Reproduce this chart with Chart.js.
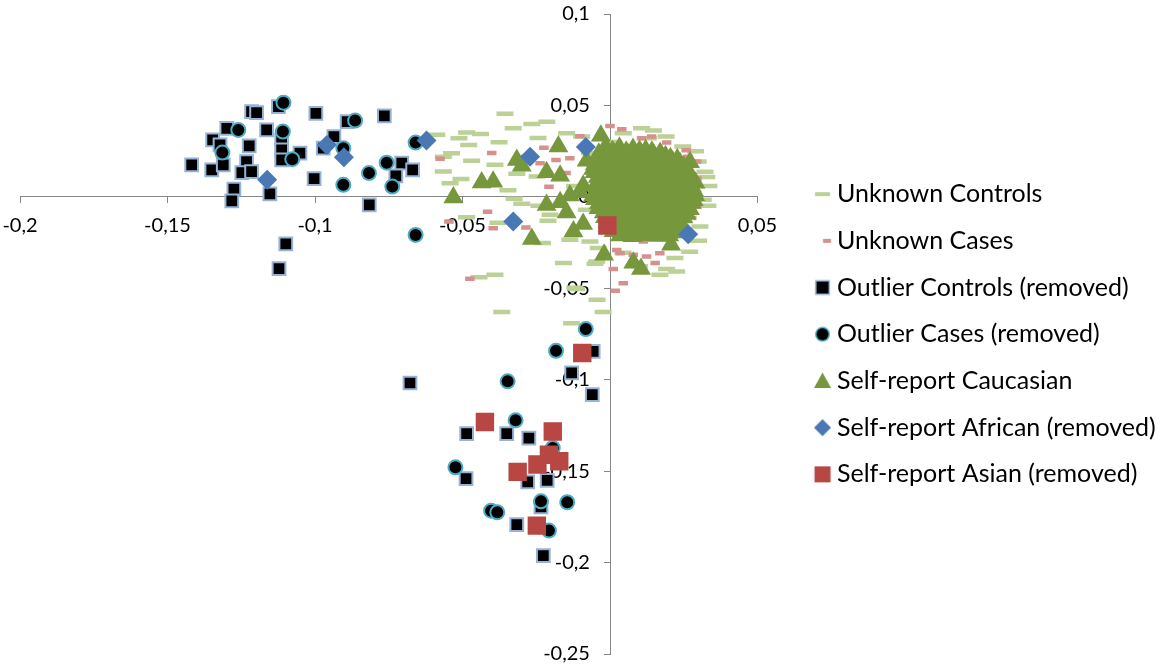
<!DOCTYPE html>
<html><head><meta charset="utf-8">
<script src="https://cdn.jsdelivr.net/npm/chart.js@4.4.1/dist/chart.umd.min.js"></script>
<style>html,body{margin:0;padding:0;background:#fff;overflow:hidden}#wrap{width:1163px;height:667px}</style>
</head><body><div id="wrap"><canvas id="c" width="1163" height="667" style="width:1163px;height:667px"></canvas></div>
<script>
const seriesNames = ['Unknown Controls','Unknown Cases','Outlier Controls (removed)','Outlier Cases (removed)','Self-report Caucasian','Self-report African (removed)','Self-report Asian (removed)'];
const xTickValues = [-0.2,-0.15,-0.1,-0.05,0,0.05];
const xTickLabels = ['-0,2','-0,15','-0,1','-0,05','0','0,05'];
const yTickValues = [-0.25,-0.2,-0.15,-0.1,-0.05,0,0.05,0.1];
const yTickLabels = ['-0,25','-0,2','-0,15','-0,1','-0,05','0','0,05','0,1'];

const unknownControls = [[-0.0356,0.0454],[-0.0328,0.0375],[-0.0265,0.0399],[-0.0214,0.0411],[-0.0486,0.0352],[-0.0439,0.0344],[-0.0587,0.0339],[-0.0512,0.0321],[-0.0376,0.0299],[-0.0479,0.0284],[-0.0244,0.0322],[-0.0565,0.0220],[-0.0537,0.0239],[-0.0469,0.0197],[-0.0390,0.0175],[-0.0565,0.0138],[-0.0505,0.0098],[-0.0542,0.0075],[-0.0316,0.0126],[-0.0247,0.0112],[-0.0346,0.0036],[-0.0325,-0.0011],[-0.0299,-0.0038],[-0.0241,-0.0049],[-0.0203,-0.0098],[-0.0210,-0.0131],[-0.0486,-0.0112],[-0.0380,-0.0142],[-0.0229,-0.0253],[-0.0158,-0.0362],[-0.0390,-0.0426],[-0.0444,-0.0440],[-0.0119,-0.0497],[-0.0051,-0.0366],[-0.0136,-0.0235],[-0.0147,0.0348],[-0.0096,0.0330],[0.0045,0.0348],[0.0107,0.0375],[0.0147,0.0363],[0.0247,0.0275],[0.0299,0.0193],[0.0322,0.0137],[0.0328,0.0109],[0.0316,-0.0016],[0.0332,-0.0049],[0.0305,-0.0162],[0.0220,-0.0335],[0.0226,-0.0408],[0.0169,-0.0426],[0.0192,-0.0395],[-0.0068,-0.0244],[-0.0045,-0.0354],[0.0044,-0.0306],[-0.0113,-0.0504],[-0.0044,-0.0563],[-0.0367,-0.0630],[-0.0023,-0.0630],[-0.0130,-0.0691],[0.0010,0.0300],[0.0190,0.0330],[0.0290,0.0250],[0.0335,0.0060],[0.0300,-0.0240],[0.0100,-0.0380],[-0.0040,-0.0280],[-0.0080,-0.0070],[-0.0120,0.0060],[-0.0070,0.0240],[0.0270,-0.0300],[0.0130,0.0320]];

const unknownCases = [[-0.0401,0.0240],[-0.0576,0.0208],[-0.0224,0.0268],[-0.0237,0.0184],[-0.0183,0.0202],[-0.0136,0.0211],[-0.0207,0.0055],[-0.0149,0.0131],[-0.0102,0.0332],[-0.0045,0.0048],[-0.0415,-0.0082],[-0.0546,-0.0135],[-0.0396,-0.0171],[-0.0285,-0.0167],[-0.0475,-0.0448],[0.0000,0.0388],[0.0040,0.0370],[0.0107,0.0321],[0.0141,0.0330],[0.0192,0.0297],[0.0258,0.0255],[0.0294,0.0193],[0.0271,-0.0016],[0.0294,-0.0053],[0.0277,-0.0116],[0.0113,-0.0244],[0.0034,-0.0308],[0.0124,-0.0326],[0.0169,-0.0308],[0.0153,-0.0362],[0.0011,-0.0395],[0.0045,-0.0472],[-0.0045,-0.0044],[0.0079,-0.0317],[0.0023,-0.0290],[0.0018,-0.0514],[0.0265,0.0220],[0.0203,-0.0198],[0.0295,0.0100]];

const outlierControls = [[-0.1418,0.0175],[-0.1347,0.0311],[-0.1350,0.0148],[-0.1311,0.0175],[-0.1299,0.0375],[-0.1322,0.0284],[-0.1215,0.0466],[-0.1198,0.0461],[-0.1223,0.0279],[-0.1232,0.0193],[-0.1248,0.0133],[-0.1215,0.0138],[-0.1275,0.0042],[-0.1282,-0.0022],[-0.1164,0.0366],[-0.1153,0.0016],[-0.1124,0.0493],[-0.1113,0.0311],[-0.1113,0.0257],[-0.1113,0.0202],[-0.1051,0.0239],[-0.0997,0.0457],[-0.1003,0.0100],[-0.0972,0.0266],[-0.0936,0.0330],[-0.0891,0.0411],[-0.0765,0.0443],[-0.0816,-0.0044],[-0.0706,0.0184],[-0.0726,0.0115],[-0.0669,0.0148],[-0.1099,-0.0257],[-0.1122,-0.0393],[-0.0678,-0.1018],[-0.0130,-0.0963],[-0.0057,-0.0845],[-0.0060,-0.1082],[-0.0486,-0.1295],[-0.0350,-0.1295],[-0.0275,-0.1319],[-0.0488,-0.1541],[-0.0279,-0.1559],[-0.0213,-0.1550],[-0.0234,-0.1696],[-0.0316,-0.1792],[-0.0226,-0.1962]];

const outlierCases = [[-0.1107,0.0515],[-0.1260,0.0366],[-0.1314,0.0242],[-0.1109,0.0357],[-0.1077,0.0206],[-0.0864,0.0417],[-0.0904,0.0266],[-0.0904,0.0066],[-0.0817,0.0130],[-0.0757,0.0187],[-0.0738,0.0056],[-0.0659,0.0297],[-0.0659,-0.0208],[-0.0082,-0.0723],[-0.0183,-0.0842],[-0.0347,-0.1009],[-0.0320,-0.1222],[-0.0194,-0.1373],[-0.0524,-0.1479],[-0.0234,-0.1665],[-0.0145,-0.1670],[-0.0403,-0.1716],[-0.0382,-0.1725],[-0.0207,-0.1825]];

const caucasian = [[-0.0531,-0.0003],[-0.0435,0.0079],[-0.0396,0.0083],[-0.0316,0.0202],[-0.0299,0.0170],[-0.0265,-0.0231],[-0.0215,0.0134],[-0.0169,0.0116],[-0.0175,0.0276],[-0.0215,-0.0044],[-0.0169,-0.0030],[-0.0136,0.0008],[-0.0147,-0.0085],[-0.0124,-0.0189],[-0.0091,-0.0149],[-0.0079,0.0198],[-0.0057,0.0152],[-0.0031,0.0334],[-0.0020,-0.0317],[-0.0057,0.0007],[-0.0091,0.0061],[-0.0102,0.0025],[0.0079,-0.0361],[0.0105,-0.0395],[0.0207,-0.0262],[0.0281,0.0038],[0.0271,0.0189],
[-0.0015,0.0272],[0.0032,0.0268],[0.0078,0.0262],[0.0121,0.0255],
[-0.0038,0.0236],[0.0012,0.0241],[0.0061,0.0233],[0.0104,0.0238],[0.0149,0.0229],[0.0188,0.0222],
[-0.0046,0.0197],[0.0003,0.0203],[0.0042,0.0195],[0.0089,0.0201],[0.0131,0.0194],[0.0172,0.0199],[0.0213,0.0191],[0.0238,0.0183],
[-0.0028,0.0158],[0.0018,0.0162],[0.0063,0.0155],[0.0108,0.0161],[0.0152,0.0153],[0.0193,0.0159],[0.0229,0.0150],[0.0259,0.0144],
[-0.0041,0.0109],[0.0004,0.0114],[0.0049,0.0106],[0.0093,0.0112],[0.0134,0.0104],[0.0178,0.0111],[0.0221,0.0103],[0.0257,0.0108],[0.0279,0.0097],
[-0.0049,0.0062],[-0.0008,0.0056],[0.0031,0.0064],[0.0072,0.0055],[0.0118,0.0061],[0.0161,0.0053],[0.0202,0.0060],[0.0243,0.0052],[0.0277,0.0058],
[-0.0032,0.0012],[0.0019,0.0006],[0.0058,0.0014],[0.0101,0.0004],[0.0143,0.0011],[0.0188,0.0003],[0.0229,0.0010],[0.0266,0.0002],[0.0289,0.0009],
[-0.0038,-0.0037],[0.0003,-0.0043],[0.0041,-0.0035],[0.0084,-0.0044],[0.0127,-0.0036],[0.0169,-0.0045],[0.0212,-0.0038],[0.0248,-0.0046],[0.0277,-0.0033],
[-0.0021,-0.0086],[0.0022,-0.0093],[0.0063,-0.0084],[0.0107,-0.0092],[0.0151,-0.0085],[0.0193,-0.0094],[0.0228,-0.0087],[0.0259,-0.0091],
[-0.0008,-0.0138],[0.0039,-0.0143],[0.0081,-0.0136],[0.0122,-0.0144],[0.0164,-0.0137],[0.0203,-0.0145],[0.0238,-0.0139],
[0.0012,-0.0188],[0.0054,-0.0194],[0.0098,-0.0186],[0.0141,-0.0193],[0.0182,-0.0187],[0.0221,-0.0195],
[0.0008,0.0250],[0.0055,0.0247],[0.0100,0.0252],[0.0142,0.0246],[0.0170,0.0240],
[-0.0013,0.0218],[0.0036,0.0221],[0.0083,0.0215],[0.0127,0.0220],[0.0168,0.0214],[0.0205,0.0211],[0.0228,0.0205],
[-0.0051,0.0178],[-0.0006,0.0181],[0.0040,0.0175],[0.0086,0.0179],[0.0130,0.0173],[0.0173,0.0180],[0.0214,0.0172],[0.0248,0.0168],
[-0.0052,0.0134],[-0.0006,0.0137],[0.0039,0.0131],[0.0086,0.0136],[0.0129,0.0130],[0.0174,0.0135],[0.0215,0.0128],[0.0245,0.0133],[0.0270,0.0126],
[-0.0026,0.0085],[0.0022,0.0088],[0.0066,0.0082],[0.0111,0.0087],[0.0156,0.0081],[0.0199,0.0086],[0.0240,0.0080],[0.0268,0.0084],[0.0290,0.0077],
[-0.0045,0.0036],[0.0002,0.0039],[0.0046,0.0033],[0.0091,0.0038],[0.0137,0.0032],[0.0182,0.0037],[0.0224,0.0031],[0.0262,0.0035],[0.0286,0.0030],
[-0.0051,-0.0013],[-0.0010,-0.0010],[0.0036,-0.0016],[0.0081,-0.0011],[0.0123,-0.0017],[0.0166,-0.0012],[0.0208,-0.0018],[0.0247,-0.0014],[0.0284,-0.0019],
[-0.0039,-0.0062],[0.0004,-0.0059],[0.0044,-0.0065],[0.0087,-0.0060],[0.0131,-0.0066],[0.0172,-0.0061],[0.0211,-0.0067],[0.0243,-0.0063],[0.0271,-0.0068],
[-0.0017,-0.0112],[0.0020,-0.0109],[0.0061,-0.0115],[0.0102,-0.0110],[0.0142,-0.0116],[0.0186,-0.0111],[0.0220,-0.0117],[0.0249,-0.0113],
[-0.0003,-0.0163],[0.0033,-0.0160],[0.0077,-0.0166],[0.0119,-0.0161],[0.0161,-0.0167],[0.0199,-0.0162],[0.0232,-0.0165],
[0.0034,-0.0212],[0.0076,-0.0215],[0.0120,-0.0210],[0.0162,-0.0214],[0.0201,-0.0211]];

const african = [[-0.1162,0.0093],[-0.0960,0.0284],[-0.0902,0.0217],[-0.0622,0.0308],[-0.0271,0.0220],[-0.0082,0.0272],[-0.0328,-0.0135],[0.0265,-0.0204]];

const asian = [[-0.0094,-0.0854],[-0.0424,-0.1231],[-0.0194,-0.1283],[-0.0207,-0.1410],[-0.0172,-0.1446],[-0.0246,-0.1464],[-0.0313,-0.1504],[-0.0248,-0.1798],[-0.0009,-0.0157]];

// ---- layout constants ----
const FONT = 'Lato';
const W = 1163, H = 667;
const area = {left: 20, right: 757.5, top: 14, bottom: 654.5};
const legendFontSize = 25, legendSpacing = 46.7;
const legendPad = legendSpacing - legendFontSize;
const markerCenterX = 822.5, textStartX = 837;
const boxW = textStartX - (area.right + legendPad) - legendFontSize / 2;
const markerOffset = markerCenterX - (area.right + legendPad + boxW / 2);
const yLabelAnchorX = -0.0068; // x value where y tick labels end (gap left of axis)

const mc = document.createElement('canvas').getContext('2d');
mc.font = legendFontSize + 'px ' + FONT;
const textW = Math.max(...seriesNames.map(s => mc.measureText(s).width));
const legendW = legendPad + boxW + legendFontSize / 2 + textW + 10;
const padRight = W - area.right - legendW;

function makeMarker(draw) {
  const w = 2 * Math.ceil(Math.abs(markerOffset) + 14), h = 30;
  const c = document.createElement('canvas'); c.width = w; c.height = h;
  const g = c.getContext('2d');
  g.translate(w / 2 + markerOffset, h / 2);
  draw(g);
  return c;
}
const C = {
  green: '#bcd196', pink: '#d6918f', sqBorder: '#95b3d7', circBorder: '#4bacc6',
  tri: '#77973d', dia: '#4a78b5', red: '#b84642'
};
const legendMarkers = [
  makeMarker(g => { g.fillStyle = C.green; g.fillRect(-7.5, -2, 15, 4); }),
  makeMarker(g => { g.fillStyle = C.pink; g.fillRect(0.5, -2, 8, 4); }),
  makeMarker(g => { g.fillStyle = C.sqBorder; g.fillRect(-7.5, -7.5, 15, 15); g.fillStyle = '#000'; g.fillRect(-6, -6, 12, 12); }),
  makeMarker(g => { g.fillStyle = C.circBorder; g.beginPath(); g.arc(0, 0, 7.5, 0, Math.PI * 2); g.fill(); g.fillStyle = '#000'; g.beginPath(); g.arc(0, 0, 6, 0, Math.PI * 2); g.fill(); }),
  makeMarker(g => { g.fillStyle = C.tri; g.beginPath(); g.moveTo(0, -8.5); g.lineTo(8.5, 7); g.lineTo(-8.5, 7); g.closePath(); g.fill(); }),
  makeMarker(g => { g.fillStyle = C.dia; g.beginPath(); g.moveTo(0, -8.5); g.lineTo(8.5, 0); g.lineTo(0, 8.5); g.lineTo(-8.5, 0); g.closePath(); g.fill(); }),
  makeMarker(g => { g.fillStyle = C.red; g.fillRect(-8, -8, 16, 16); })
];

const mk = arr => arr.map(([x, y]) => ({x, y}));
const hideSize = s => {
  if (s.isHorizontal()) s.height = 0; else s.width = 0;
  s.paddingLeft = s.paddingRight = s.paddingTop = s.paddingBottom = 0;
};
const axisColor = '#868686';
const lineAxis = (vals, min, max, pos) => ({
  type: 'linear', min, max, position: pos, afterFit: hideSize,
  afterBuildTicks: s => { s.ticks = vals.map(v => ({value: v})); },
  grid: {display: true, drawOnChartArea: false, drawTicks: true, tickLength: 6, color: axisColor, lineWidth: 1},
  border: {display: true, color: axisColor, width: 1},
  ticks: {display: false}
});
const labelAxis = (axis, vals, labels, min, max, pos, pad) => ({
  type: 'linear', axis, min, max, position: pos, afterFit: hideSize, z: 1,
  afterBuildTicks: s => { s.ticks = vals.map(v => ({value: v})); },
  grid: {display: false, drawTicks: false},
  border: {display: false},
  ticks: {display: true, padding: pad, autoSkip: false, maxRotation: 0, color: '#000',
    font: {family: FONT, size: 20}, callback: (v, i) => labels[i]}
});

const styles = [
  {pointStyle: 'line', pointRadius: 8.5, pointBorderWidth: 4.5, pointBorderColor: C.green, pointBackgroundColor: C.green},
  {pointStyle: 'line', pointRadius: 4.75, pointBorderWidth: 4.5, pointBorderColor: C.pink, pointBackgroundColor: C.pink},
  {pointStyle: 'rect', pointRadius: 9, pointBorderWidth: 2, pointBorderColor: C.sqBorder, pointBackgroundColor: '#000'},
  {pointStyle: 'circle', pointRadius: 7, pointBorderWidth: 2, pointBorderColor: C.circBorder, pointBackgroundColor: '#000'},
  {pointStyle: 'triangle', pointRadius: 11.5, pointBorderWidth: 0, pointBorderColor: C.tri, pointBackgroundColor: C.tri},
  {pointStyle: 'rectRot', pointRadius: 10, pointBorderWidth: 0, pointBorderColor: C.dia, pointBackgroundColor: C.dia},
  {pointStyle: 'rect', pointRadius: 13, pointBorderWidth: 0, pointBorderColor: C.red, pointBackgroundColor: C.red}
];
const seriesData = [unknownControls, unknownCases, outlierControls, outlierCases, caucasian, african, asian];

new Chart(document.getElementById('c'), {
  type: 'scatter',
  data: {
    datasets: seriesData.map((d, i) => Object.assign({
      label: seriesNames[i], data: mk(d), order: 7 - i, showLine: false,
      borderColor: styles[i].pointBorderColor, backgroundColor: styles[i].pointBackgroundColor
    }, styles[i]))
  },
  options: {
    responsive: false, animation: false, devicePixelRatio: 1, events: [],
    layout: {padding: {left: area.left, top: area.top, bottom: H - area.bottom, right: padRight}},
    scales: {
      x: lineAxis(xTickValues, -0.2, 0.05, {y: 0}),
      y: lineAxis(yTickValues, -0.25, 0.1, {x: 0}),
      xLabels: labelAxis('x', xTickValues, xTickLabels, -0.2, 0.05, {y: 0}, 17),
      yLabels: labelAxis('y', yTickValues, yTickLabels, -0.25, 0.1, {x: yLabelAnchorX}, 0)
    },
    plugins: {
      tooltip: {enabled: false},
      legend: {
        position: 'right', reverse: true, maxWidth: 600,
        labels: {
          usePointStyle: true, pointStyleWidth: boxW, padding: legendPad, color: '#000',
          font: {family: FONT, size: legendFontSize},
          generateLabels(chart) {
            const items = Chart.defaults.plugins.legend.labels.generateLabels(chart);
            items.forEach(it => { it.pointStyle = legendMarkers[it.datasetIndex]; });
            return items;
          }
        }
      }
    }
  }
});
</script></body></html>
